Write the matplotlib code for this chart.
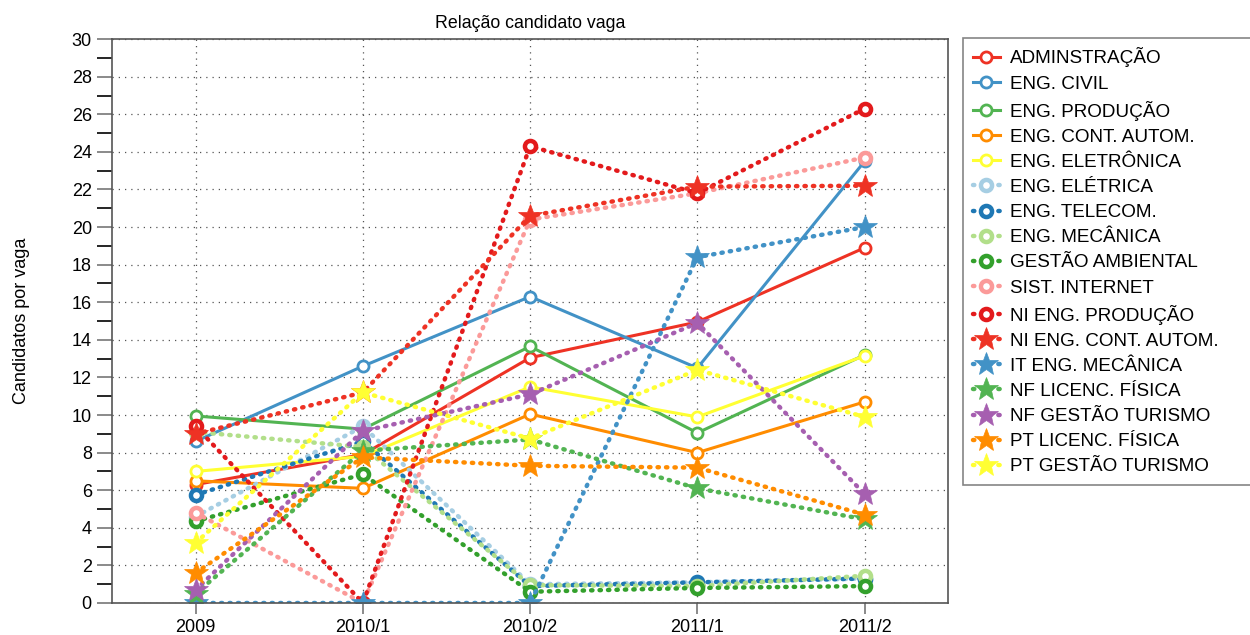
import numpy as np
import matplotlib.pyplot as plt

plt.rcParams['font.family'] = ['Liberation Sans', 'DejaVu Sans']

periods = ['2009', '2010/1', '2010/2', '2011/1', '2011/2']

# candidatos por vaga
adminstracao = [6.3, 7.9, 13.05, 14.95, 18.9]
eng_civil = [8.6, 12.6, 16.3, 12.5, 23.5]
eng_producao = [9.95, 9.25, 13.65, 9.05, 13.2]
eng_cont_autom = [6.5, 6.1, 10.05, 8.0, 10.7]
eng_eletronica = [7.0, 7.8, 11.5, 9.9, 13.15]
eng_eletrica = [4.6, 9.4, 1.0, 1.1, 1.3]
eng_telecom = [5.75, 8.6, 0.9, 1.1, 1.3]
eng_mecanica = [9.1, 8.3, 0.95, 0.9, 1.45]
gestao_ambiental = [4.35, 6.85, 0.6, 0.8, 0.9]
sist_internet = [4.8, 0.0, 20.4, 21.8, 23.7]
ni_eng_producao = [9.4, 0.0, 24.3, 21.8, 26.3]
ni_eng_cont_autom = [9.0, 11.2, 20.6, 22.15, 22.2]
it_eng_mecanica = [0.0, 0.0, 0.0, 18.4, 20.0]
nf_licenc_fisica = [0.5, 8.1, 8.7, 6.1, 4.45]
nf_gestao_turismo = [0.7, 9.15, 11.1, 14.9, 5.8]
pt_licenc_fisica = [1.6, 7.75, 7.3, 7.2, 4.7]
pt_gestao_turismo = [3.2, 11.2, 8.75, 12.4, 9.9]

series = [
    ('ADMINSTRAÇÃO', adminstracao, '#ee3224', 'solid', 'o'),
    ('ENG. CIVIL', eng_civil, '#4292c6', 'solid', 'o'),
    ('ENG. PRODUÇÃO', eng_producao, '#52b452', 'solid', 'o'),
    ('ENG. CONT. AUTOM.', eng_cont_autom, '#ff8c00', 'solid', 'o'),
    ('ENG. ELETRÔNICA', eng_eletronica, '#ffff33', 'solid', 'o'),
    ('ENG. ELÉTRICA', eng_eletrica, '#a6cee3', 'dotted', 'o'),
    ('ENG. TELECOM.', eng_telecom, '#1f78b4', 'dotted', 'o'),
    ('ENG. MECÂNICA', eng_mecanica, '#b2df8a', 'dotted', 'o'),
    ('GESTÃO AMBIENTAL', gestao_ambiental, '#33a02c', 'dotted', 'o'),
    ('SIST. INTERNET', sist_internet, '#fb9a99', 'dotted', 'o'),
    ('NI ENG. PRODUÇÃO', ni_eng_producao, '#e31a1c', 'dotted', 'o'),
    ('NI ENG. CONT. AUTOM.', ni_eng_cont_autom, '#ee3224', 'dotted', '*'),
    ('IT ENG. MECÂNICA', it_eng_mecanica, '#4292c6', 'dotted', '*'),
    ('NF LICENC. FÍSICA', nf_licenc_fisica, '#52b452', 'dotted', '*'),
    ('NF GESTÃO TURISMO', nf_gestao_turismo, '#a65fb0', 'dotted', '*'),
    ('PT LICENC. FÍSICA', pt_licenc_fisica, '#ff8c00', 'dotted', '*'),
    ('PT GESTÃO TURISMO', pt_gestao_turismo, '#ffff33', 'dotted', '*'),
]

fig = plt.figure(figsize=(12.5, 6.35), dpi=100)
ax = fig.add_axes([0.0896, 0.0504, 0.669, 0.888])
x = np.arange(len(periods))

for name, vals, color, style, marker in series:
    if style == 'solid':
        ax.plot(x, vals, color=color, lw=2.2, marker='o', markersize=8,
                markerfacecolor='white', markeredgecolor=color, markeredgewidth=2,
                label=name)
    elif marker == 'o':
        ax.plot(x, vals, color=color, lw=3.2, linestyle=(0, (0.3, 1.6)),
                dash_capstyle='round', marker='o', markersize=8,
                markerfacecolor='white', markeredgecolor=color, markeredgewidth=3.2,
                label=name)
    else:
        ax.plot(x, vals, color=color, lw=3.2, linestyle=(0, (0.3, 1.6)),
                dash_capstyle='round', marker='*', markersize=18,
                markeredgecolor=color, markeredgewidth=0.5, label=name)

ax.set_xlim(-0.5, 4.5)
ax.set_ylim(0, 30)
ax.set_xticks(x)
ax.set_xticklabels(periods)
ax.set_yticks(np.arange(0, 31, 2))
ax.set_yticks(np.arange(1, 30, 2), minor=True)
ax.tick_params(axis='both', labelsize=13, color='#777777')
ax.tick_params(axis='y', which='both', length=11, width=1.2)
ax.tick_params(axis='x', length=8, width=1.2)
ax.grid(True, which='major', linestyle=(0, (1, 4)), color='#555555', lw=0.9)
for s in ax.spines.values():
    s.set_color('#555555')
    s.set_linewidth(1.2)

ax.set_title('Relação candidato vaga', fontsize=12.8, pad=8)
ax.set_ylabel('Candidatos por vaga', fontsize=13, labelpad=30)

leg = ax.legend(loc='upper left', bbox_to_anchor=(1.018, 1.002, 0.35, 0),
                mode='expand', fontsize=13.6, frameon=True, fancybox=False,
                borderpad=0.5, borderaxespad=0, labelspacing=0.42,
                handlelength=1.45, handletextpad=0.5)
leg.get_frame().set_edgecolor('#666666')
leg.get_frame().set_linewidth(1.2)

fig.savefig('out.png', dpi=100)
